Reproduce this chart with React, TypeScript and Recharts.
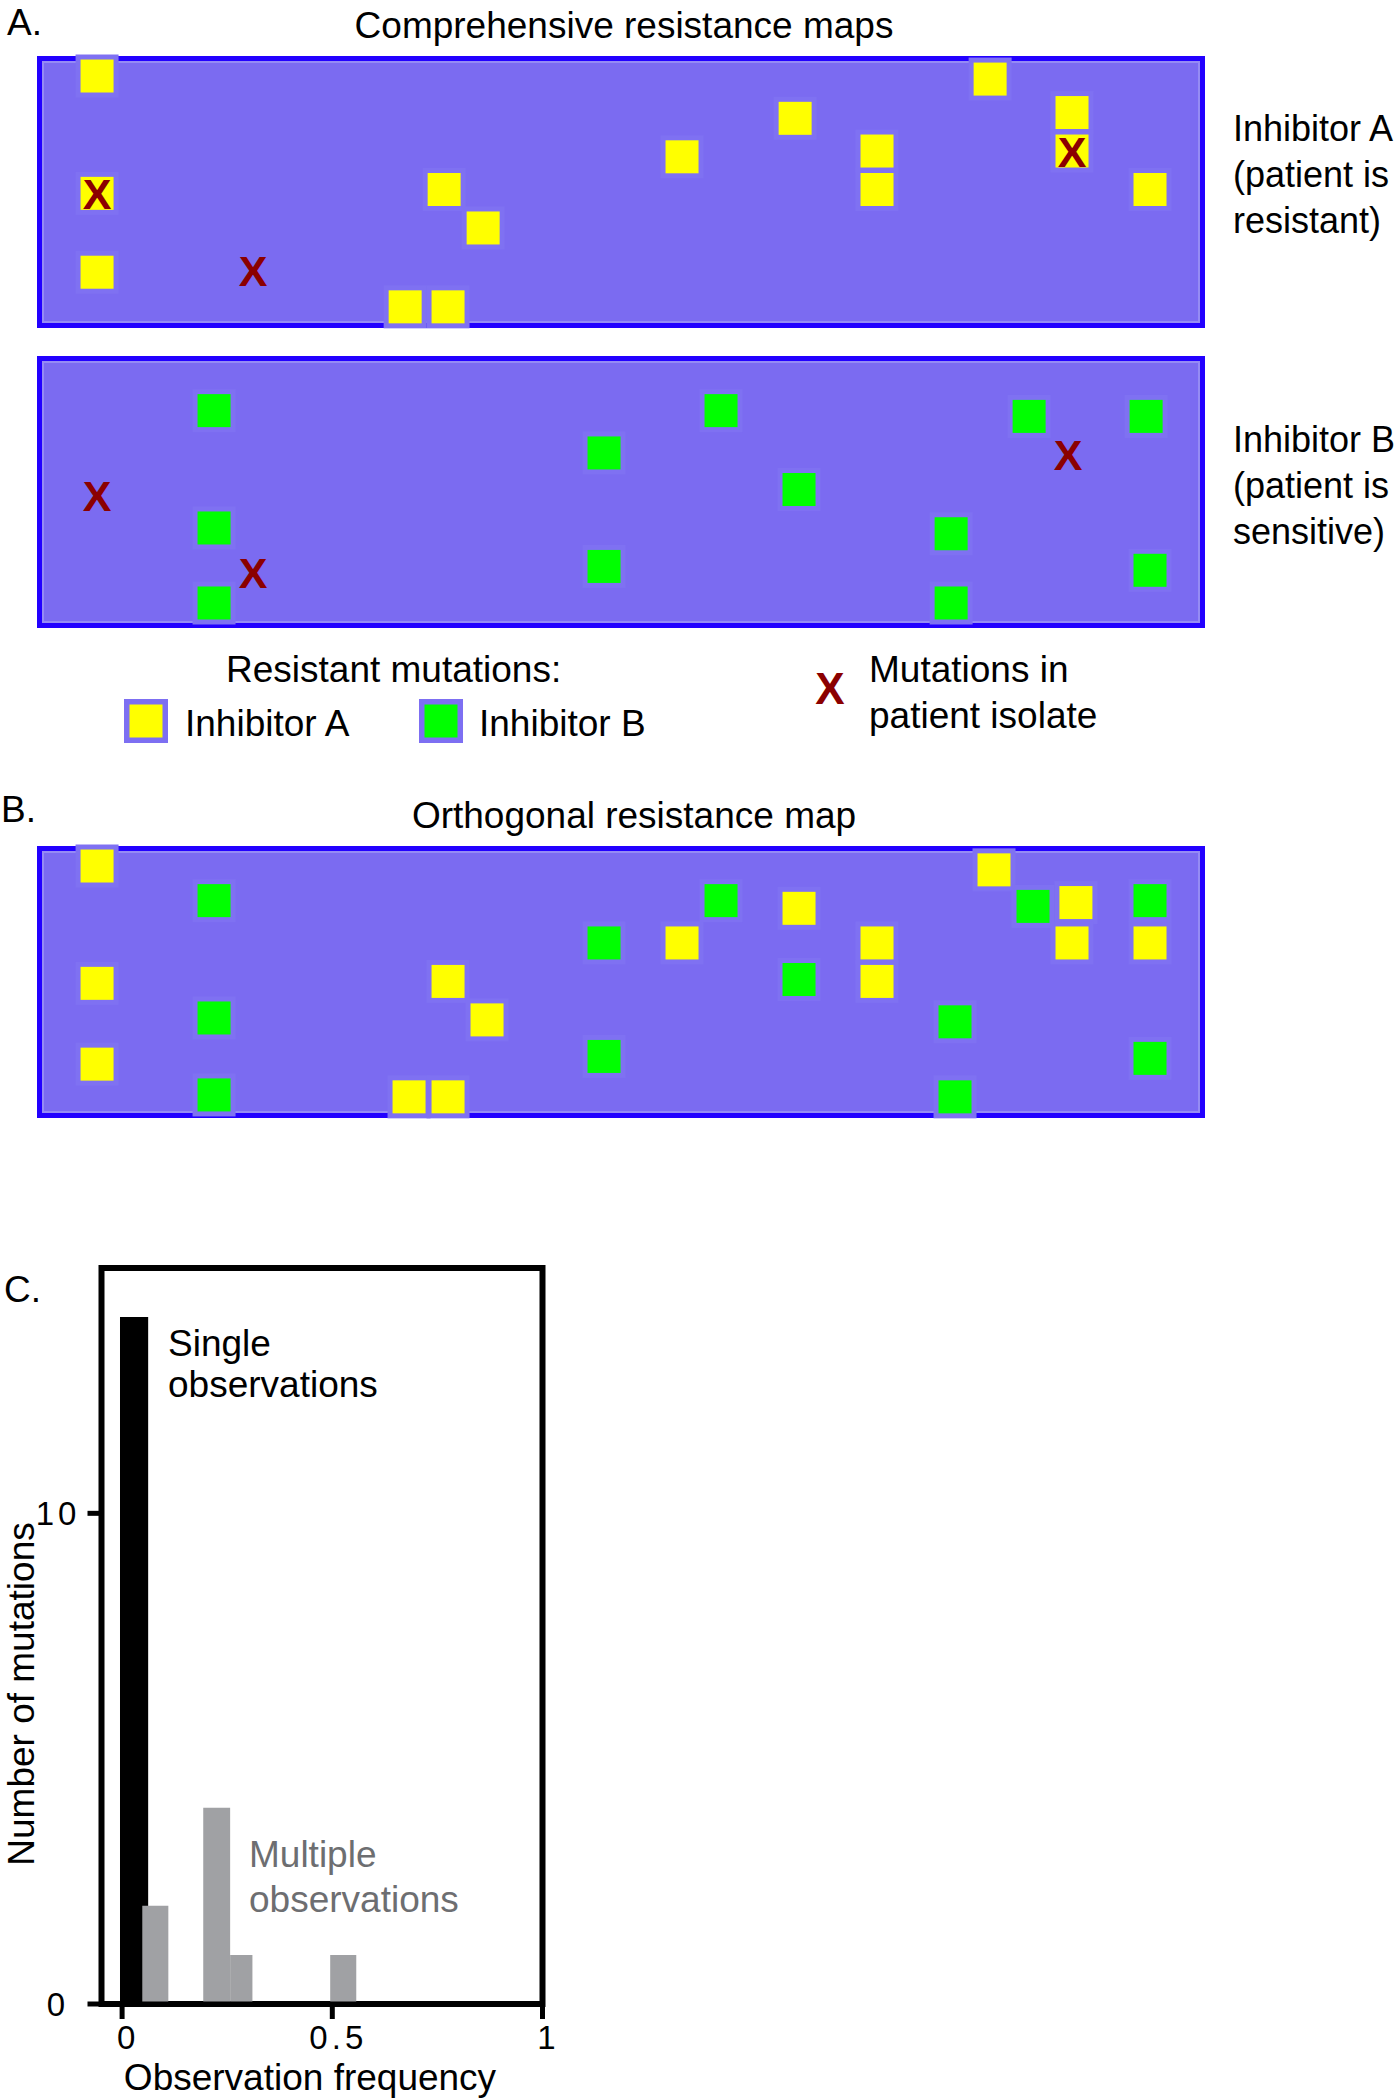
import React from "react";
import {
  ScatterChart,
  Scatter,
  ComposedChart,
  XAxis,
  YAxis,
  ReferenceArea,
} from "recharts";

const FONT = "'Liberation Sans', Arial, Helvetica, sans-serif";

// map positions: column along the sequence, row down the map
const inhibitorACols = [0, 0, 0, 7.9, 9, 8.9, 9.9, 15, 17.9, 20, 20, 22.9, 25, 25, 27];
const inhibitorARows = [0, 3.05, 5.1, 6, 6, 2.95, 3.95, 2.1, 1.1, 1.95, 2.95, 0.08, 0.95, 1.95, 2.95];
const patientACols = [0, 4, 25];
const patientARows = [3.05, 5.05, 1.95];

const inhibitorBCols = [3, 16, 23.9, 26.9, 13, 18, 3, 21.9, 13, 27, 3, 21.9];
const inhibitorBRows = [0.9, 0.9, 1.05, 1.05, 2, 2.95, 3.95, 4.1, 4.95, 5.05, 5.9, 5.9];
const patientBCols = [0, 4, 24.9];
const patientBRows = [3.1, 5.1, 2.05];

// orthogonal map (panel B)
const orthoACols = [0, 18, 23, 25.1, 15, 20, 25, 27, 0, 9, 20, 10, 0, 8, 9];
const orthoARows = [0, 1.1, 0.1, 0.95, 2, 2, 2, 2, 3.05, 3, 3, 4, 5.15, 6, 6];
const orthoBCols = [3, 16, 24, 27, 13, 18, 3, 22, 13, 27, 3, 22];
const orthoBRows = [0.9, 0.9, 1.05, 0.9, 2, 2.95, 3.95, 4.05, 4.95, 5, 5.95, 6];

// histogram bins (panel C)
const singleStart = [-0.005];
const singleEnd = [0.062];
const singleCount = [14];
const multiStart = [0.048, 0.193, 0.257, 0.495];
const multiEnd = [0.11, 0.257, 0.31, 0.557];
const multiCount = [2, 4, 1, 1];

const xTicks = [0, 0.5, 1];
const yTicks = [0, 10];

const toPoints = (cols: number[], rows: number[]) =>
  cols.map((c, i) => ({ x: c, y: rows[i] }));

const squareShape = (color: string) => (props: any) => {
  const { cx, cy } = props;
  return (
    <g>
      <rect x={cx - 21.5} y={cy - 21.5} width={43} height={43} fill="#7f71f2" />
      <rect x={cx - 16.5} y={cy - 16.5} width={33} height={33} fill={color} />
    </g>
  );
};

const crossShape = (props: any) => {
  const { cx, cy } = props;
  return (
    <text
      x={cx}
      y={cy + 15.5}
      textAnchor="middle"
      fontSize={43}
      fontWeight={700}
      fontFamily={FONT}
      fill="#8b0000"
    >
      X
    </text>
  );
};

const yellowShape = squareShape("#ffff00");
const greenShape = squareShape("#00ff00");

type MapProps = {
  top: number;
  yellow?: { x: number; y: number }[];
  green?: { x: number; y: number }[];
  marks?: { x: number; y: number }[];
};

const MapPanel = ({ top, yellow, green, marks }: MapProps) => (
  <div style={{ position: "absolute", left: 37, top, width: 1168, height: 272 }}>
    <div
      style={{
        position: "absolute",
        inset: 0,
        boxSizing: "border-box",
        background: "#7b6bf1",
        border: "5px solid #2200ff",
        boxShadow: "inset 0 0 0 2px #958bf4",
      }}
    />
    <div style={{ position: "absolute", left: 0, top: 0 }}>
      <ScatterChart width={1168} height={272} margin={{ top: 0, right: 0, bottom: 0, left: 0 }}>
        <XAxis type="number" dataKey="x" domain={[-1.54, 28.41]} hide />
        <YAxis type="number" dataKey="y" domain={[-0.52, 6.55]} reversed hide />
        {yellow && (
          <Scatter data={yellow} shape={yellowShape} isAnimationActive={false} />
        )}
        {green && (
          <Scatter data={green} shape={greenShape} isAnimationActive={false} />
        )}
        {marks && (
          <Scatter data={marks} shape={crossShape} isAnimationActive={false} />
        )}
      </ScatterChart>
    </div>
  </div>
);

const YTick = (props: any) => {
  const { y, payload } = props;
  return (
    <text
      x={58}
      y={y + 12}
      textAnchor="middle"
      fontSize={33}
      letterSpacing={4}
      fontFamily={FONT}
      fill="#000"
    >
      {payload.value}
    </text>
  );
};

const XTick = (props: any) => {
  const { x, payload } = props;
  return (
    <text
      x={x + 6}
      y={809}
      textAnchor="middle"
      fontSize={33}
      letterSpacing={4}
      fontFamily={FONT}
      fill="#000"
    >
      {payload.value}
    </text>
  );
};

const Histogram = () => (
  <div style={{ position: "absolute", left: 0, top: 1240 }}>
    <ComposedChart
      width={560}
      height={860}
      margin={{ top: 28, right: 17.5, bottom: 36, left: 21.5 }}
      data={multiStart.map((s, i) => ({ x: s, y: multiCount[i] }))}
    >
      <XAxis
        type="number"
        dataKey="x"
        domain={[-0.049, 1]}
        ticks={xTicks}
        interval={0}
        allowDataOverflow
        height={60}
        tickSize={15}
        axisLine={{ stroke: "#000", strokeWidth: 5 }}
        tickLine={{ stroke: "#000", strokeWidth: 5 }}
        tick={<XTick />}
      />
      <YAxis
        type="number"
        dataKey="y"
        domain={[0, 15]}
        ticks={yTicks}
        interval={0}
        allowDataOverflow
        width={80}
        tickSize={14}
        axisLine={{ stroke: "#000", strokeWidth: 5 }}
        tickLine={{ stroke: "#000", strokeWidth: 5 }}
        tick={<YTick />}
      />
      <ReferenceArea
        x1={-0.049}
        x2={1}
        y1={0}
        y2={15}
        fill="none"
        stroke="#000"
        strokeWidth={6}
      />
      {singleStart.map((s, i) => (
        <ReferenceArea
          key={"s" + i}
          x1={s}
          x2={singleEnd[i]}
          y1={0}
          y2={singleCount[i]}
          fill="#000"
          fillOpacity={1}
        />
      ))}
      {multiStart.map((s, i) => (
        <ReferenceArea
          key={"m" + i}
          x1={s}
          x2={multiEnd[i]}
          y1={0}
          y2={multiCount[i]}
          fill="#a0a1a4"
          fillOpacity={1}
        />
      ))}
    </ComposedChart>
  </div>
);

const LegendSquare = ({ cx, cy, color }: { cx: number; cy: number; color: string }) => (
  <g>
    <rect x={cx - 22} y={cy - 22} width={44} height={44} fill="#7d6ff2" />
    <rect x={cx - 16.5} y={cy - 16.5} width={33} height={33} fill={color} />
  </g>
);

const T = (p: any) => (
  <text fontFamily={FONT} fontSize={37} fill="#000" {...p} />
);

export default function App() {
  return (
    <div
      style={{
        position: "absolute",
        left: 0,
        top: 0,
        width: 1399,
        height: 2100,
        background: "#fff",
        fontFamily: FONT,
      }}
    >
      <style>{".recharts-surface{overflow:visible}"}</style>
      <MapPanel
        top={56}
        yellow={toPoints(inhibitorACols, inhibitorARows)}
        marks={toPoints(patientACols, patientARows)}
      />
      <MapPanel
        top={356}
        green={toPoints(inhibitorBCols, inhibitorBRows)}
        marks={toPoints(patientBCols, patientBRows)}
      />
      <MapPanel
        top={846}
        yellow={toPoints(orthoACols, orthoARows)}
        green={toPoints(orthoBCols, orthoBRows)}
      />
      <Histogram />
      <svg
        width={1399}
        height={2100}
        style={{ position: "absolute", left: 0, top: 0, pointerEvents: "none" }}
      >
        <T x={7} y={35} fontSize={37}>A.</T>
        <T x={624} y={38} textAnchor="middle">Comprehensive resistance maps</T>
        <T x={1233} y={141} fontSize={36}>Inhibitor A</T>
        <T x={1233} y={187} fontSize={36}>(patient is</T>
        <T x={1233} y={233} fontSize={36}>resistant)</T>
        <T x={1233} y={452} fontSize={36}>Inhibitor B</T>
        <T x={1233} y={498} fontSize={36}>(patient is</T>
        <T x={1233} y={544} fontSize={36}>sensitive)</T>

        <T x={226} y={682}>Resistant mutations:</T>
        <LegendSquare cx={146} cy={721} color="#ffff00" />
        <T x={185} y={736}>Inhibitor A</T>
        <LegendSquare cx={441} cy={721} color="#00ff00" />
        <T x={479} y={736}>Inhibitor B</T>
        <text
          x={830}
          y={704}
          textAnchor="middle"
          fontSize={44}
          fontWeight={700}
          fontFamily={FONT}
          fill="#8b0000"
        >
          X
        </text>
        <T x={869} y={682}>Mutations in</T>
        <T x={869} y={728}>patient isolate</T>

        <T x={1} y={822}>B.</T>
        <T x={634} y={828} textAnchor="middle">Orthogonal resistance map</T>

        <T x={4} y={1302}>C.</T>
        <T x={168} y={1356}>Single</T>
        <T x={168} y={1397}>observations</T>
        <T x={249} y={1867} fill="#6d6e71">Multiple</T>
        <T x={249} y={1912} fill="#6d6e71">observations</T>
        <T x={310} y={2090} textAnchor="middle">Observation frequency</T>
        <T x={34} y={1694} textAnchor="middle" transform="rotate(-90 34 1694)">
          Number of mutations
        </T>
      </svg>
    </div>
  );
}
